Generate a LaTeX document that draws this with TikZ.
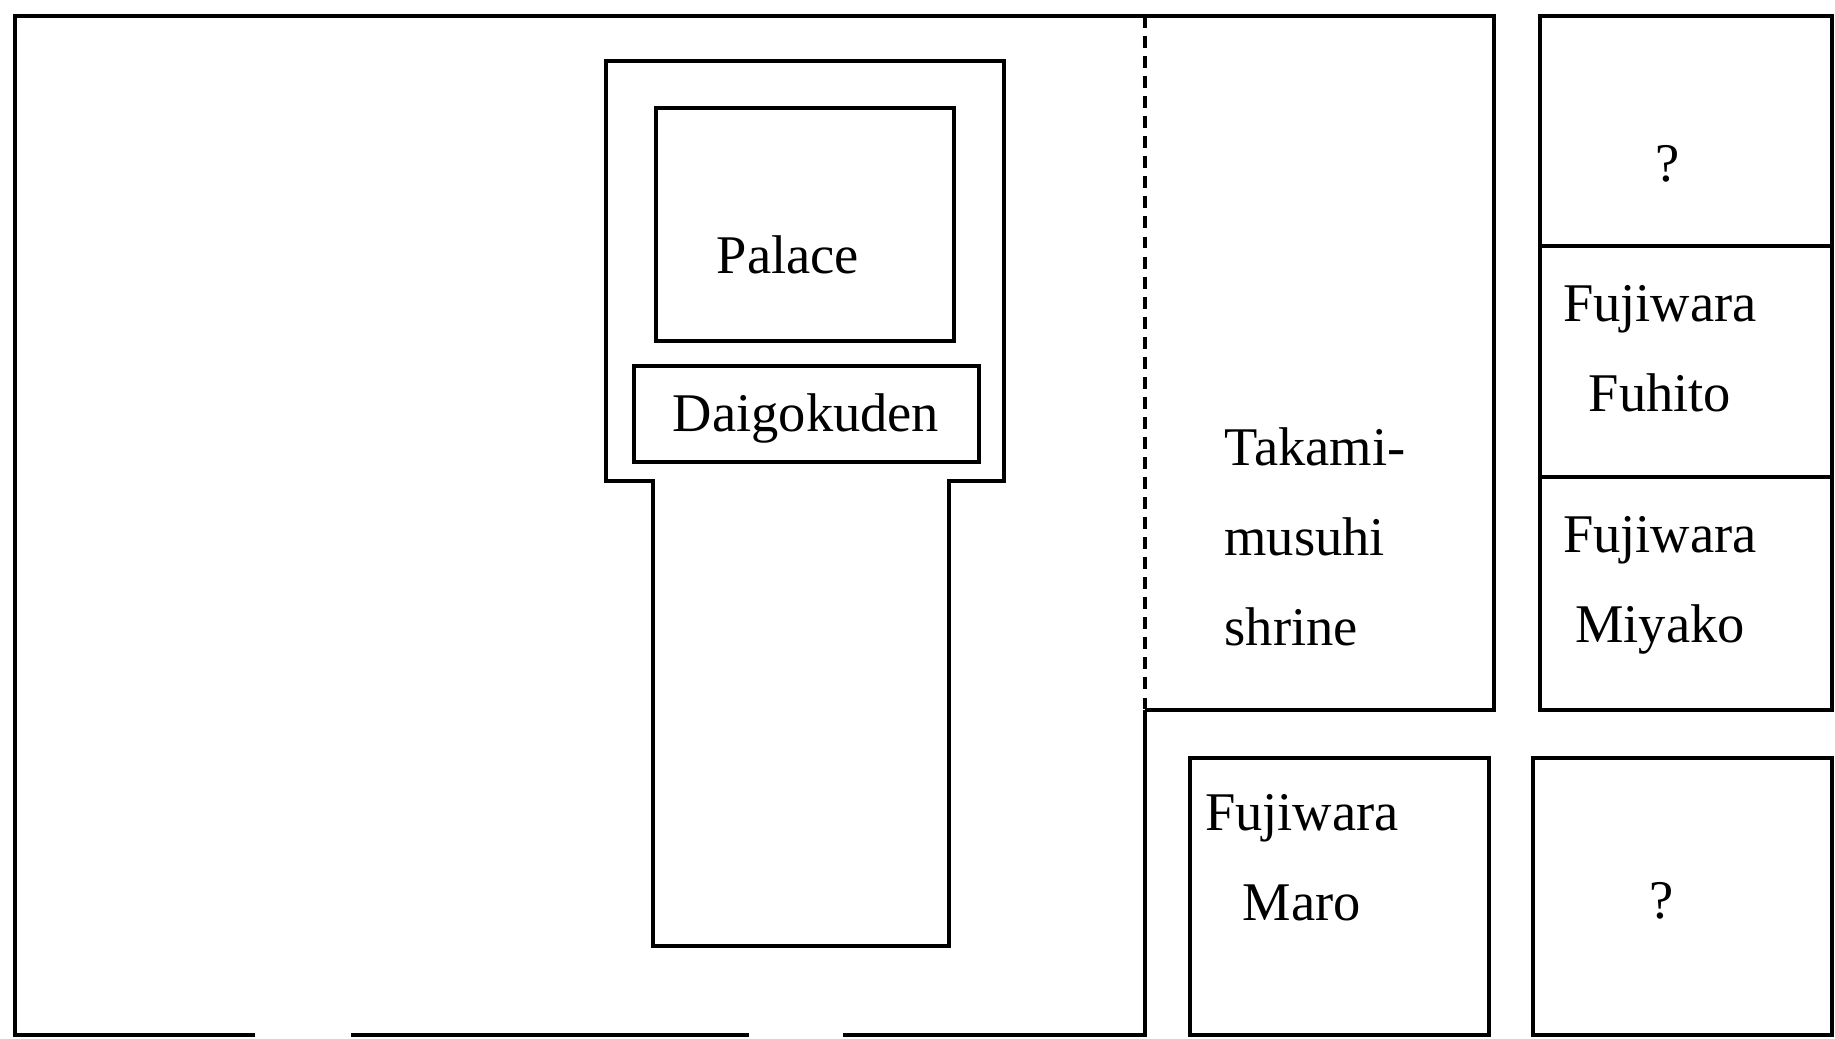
\documentclass[tikz,border=0pt]{standalone}
\usepackage{fontspec}
\setmainfont{Liberation Serif}
\begin{document}
\begin{tikzpicture}[x=0.01cm,y=-0.01cm,line width=0.9pt,
        lbl/.style={font=\fontsize{15.5}{25.5}\selectfont,inner sep=0pt,align=center},
        fence/.style={dash pattern=on 3.4pt off 2.3pt}]
        \useasboundingbox (0,0) rectangle (1835,1038);
        % outer wall, gates left open at the bottom
        \coordinate (nw) at (15,16); \coordinate (sw) at (15,1035);
        \coordinate (tk) at (1145,16); \coordinate (tb) at (1145,710);
        \coordinate (te) at (1494,16); \coordinate (tc) at (1494,710);
        \draw (255,1035) -- (sw) -- (nw) -- (te) -- (tc) -- (tb);
        \draw (351,1035) -- (749,1035);
        \draw (843,1035) -- (1145,1035) -- (tb);
        \draw[fence] (tk) -- (tb);
        % palace compound
        \draw (606,61) -- (1004,61) -- (1004,481) -- (949,481) -- (949,946)
              -- (653,946) -- (653,481) -- (606,481) -- cycle;
        \draw (656,108) rectangle (954,341);
        \draw (634,366) rectangle (979,462);
        \node[lbl] (palace) at (788,255) {Palace};
        \node[lbl] (daigo) at (806,418) {Daigokuden};
        \node[lbl,align=left,anchor=west] (takami) at (1223,537) {Takami-\\musuhi\\shrine};
        % residences
        \draw (1540,16) rectangle (1832,710);
        \foreach \y in {246,477} \draw (1540,\y) -- (1832,\y);
        \draw (1190,758) rectangle (1489,1035);
        \draw (1533,758) rectangle (1832,1035);
        \node[lbl] (q1) at (1668,164) {?};
        \node[lbl] (fuhito) at (1660,349) {Fujiwara\\Fuhito};
        \node[lbl] (miyako) at (1660,585) {Fujiwara\\Miyako};
        \node[lbl] (maro) at (1302,858) {Fujiwara\\Maro};
        \node[lbl] (q2) at (1662,901) {?};
    \end{tikzpicture}
\end{document}
